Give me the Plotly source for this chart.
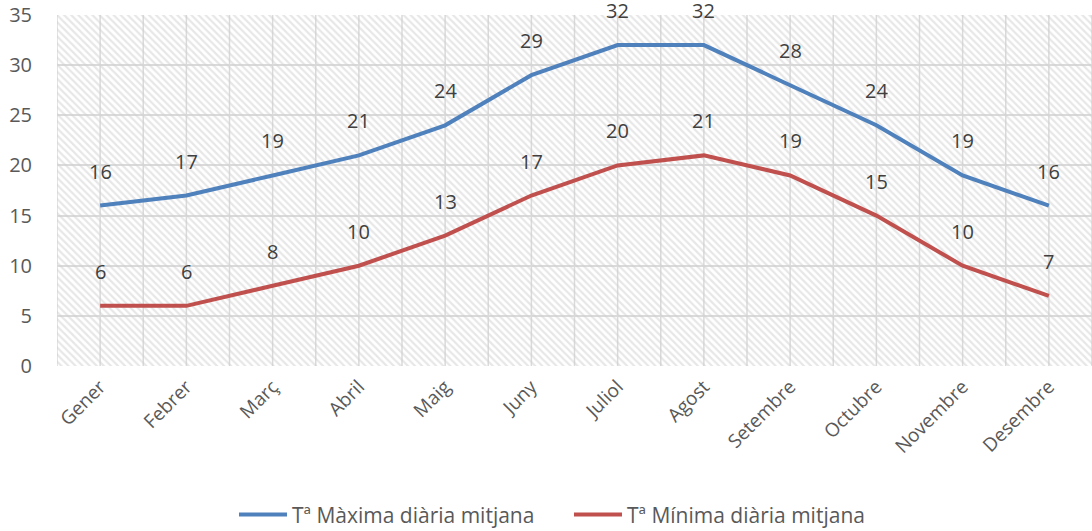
import plotly.graph_objects as go

months = ["Gener", "Febrer", "Març", "Abril", "Maig", "Juny", "Juliol", "Agost",
          "Setembre", "Octubre", "Novembre", "Desembre"]
t_max = [16, 17, 19, 21, 24, 29, 32, 32, 28, 24, 19, 16]
t_min = [6, 6, 8, 10, 13, 17, 20, 21, 19, 15, 10, 7]
name_max = "Tª Màxima diària mitjana"
name_min = "Tª Mínima diària mitjana"
y_ticks = [0, 5, 10, 15, 20, 25, 30, 35]

BLUE = "#4F81BD"
RED = "#C0504D"
FONT = "Open Sans"
GRID = "#DADADA"
xs = list(range(len(months)))

fig = go.Figure()

# hatched plot-area background
fig.add_trace(go.Scatter(
    x=[-0.5, len(months) - 0.5, len(months) - 0.5, -0.5, -0.5],
    y=[y_ticks[0], y_ticks[0], y_ticks[-1], y_ticks[-1], y_ticks[0]],
    fill="toself", mode="none", fillcolor="rgba(0,0,0,0)",
    fillpattern=dict(shape="\\", fgcolor="#CFCFCF", bgcolor="rgba(0,0,0,0)",
                     size=5, solidity=0.45),
    showlegend=False, hoverinfo="skip"))

fig.add_trace(go.Scatter(x=xs, y=t_max, mode="lines", name=name_max,
                         line=dict(color=BLUE, width=4)))
fig.add_trace(go.Scatter(x=xs, y=t_min, mode="lines", name=name_min,
                         line=dict(color=RED, width=4)))

for series in (t_max, t_min):
    for x, v in zip(xs, series):
        fig.add_annotation(x=x, y=v, text=str(v), showarrow=False, yanchor="bottom",
                           yshift=19, font=dict(family=FONT, size=20, color="#404040"))

grid_x = [i * 0.5 - 0.5 for i in range(2 * len(months) + 1)]
for gx in grid_x:
    fig.add_shape(type="line", xref="x", yref="y", x0=gx, x1=gx, y0=y_ticks[0], y1=y_ticks[-1],
                  line=dict(color=GRID, width=1.5), layer="below")

fig.update_layout(
    width=1092, height=531,
    margin=dict(l=57, r=0, t=15, b=165, autoexpand=False),
    paper_bgcolor="white", plot_bgcolor="white",
    font=dict(family=FONT, size=20, color="#595959"),
    showlegend=True,
    legend=dict(orientation="h", x=0.171, xanchor="left", y=-0.424, yanchor="middle",
                font=dict(family=FONT, size=21, color="#595959"),
                entrywidth=272, entrywidthmode="pixels", itemwidth=48,
                traceorder="normal"),
)
fig.update_xaxes(range=[-0.5, len(months) - 0.5], tickvals=xs, ticktext=months,
                 tickangle=-45, showgrid=False, zeroline=False, showline=False,
                 ticks="", ticklabelstandoff=5, tickfont=dict(size=19, color="#595959"))
fig.update_yaxes(range=[y_ticks[0], y_ticks[-1]], tickvals=y_ticks, showgrid=True,
                 gridcolor=GRID, gridwidth=1.5, zeroline=False, showline=False,
                 ticks="", ticklabelstandoff=24, tickfont=dict(size=20, color="#595959"))

fig.write_html("out.html", config={"displayModeBar": False})

# remove the browser's default page margin so the figure sits at the top-left corner
with open("out.html", encoding="utf-8") as f:
    html = f.read()
html = html.replace("<head>", "<head><style>html,body{margin:0;padding:0;overflow:hidden;}</style>", 1)
with open("out.html", "w", encoding="utf-8") as f:
    f.write(html)
